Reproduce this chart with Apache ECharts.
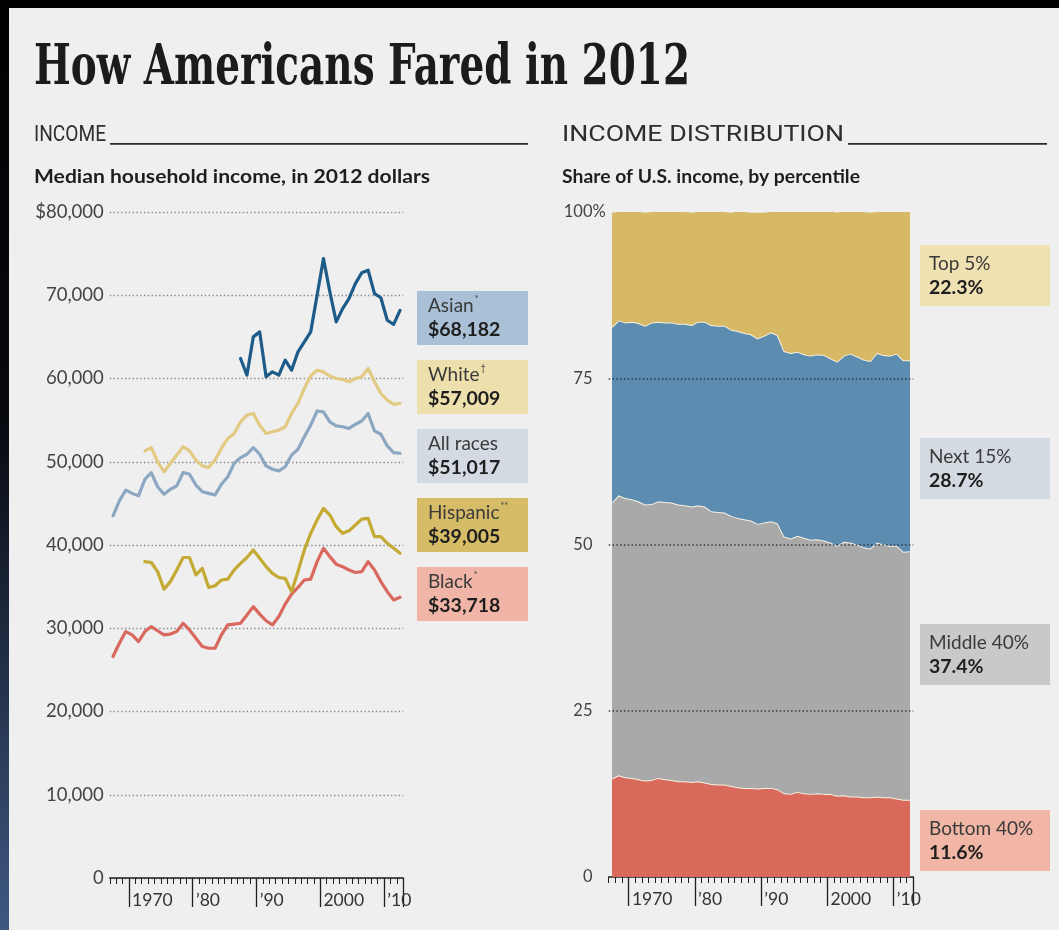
<!DOCTYPE html>
<html>
<head>
<meta charset="utf-8">
<title>How Americans Fared in 2012</title>
<script src="https://cdn.jsdelivr.net/npm/echarts@6/dist/echarts.min.js"></script>
<style>
  html, body { margin: 0; padding: 0; background: #efefef; }
  #chart { width: 1059px; height: 930px; }
</style>
</head>
<body>
<div id="chart"></div>
<script>
// ---- Years on the horizontal axes ----
const FIRST_YEAR = 1967;
const LAST_YEAR = 2012;
const years = [];
for (let y = FIRST_YEAR; y <= LAST_YEAR; y++) years.push(String(y));

// ---- Median household income, 2012 dollars ----
const allRaces = [43500, 45300, 46600, 46200, 45900, 47900, 48700, 47000, 46100, 46700,
  47100, 48700, 48500, 47200, 46400, 46200, 46000, 47300, 48200, 49800,
  50500, 50900, 51700, 50900, 49500, 49100, 48900, 49400, 50800, 51500,
  53000, 54400, 56100, 56000, 54800, 54300, 54200, 54000, 54500, 54900,
  55800, 53700, 53300, 51900, 51100, 51017];            // from 1967
const black = [26600, 28200, 29600, 29200, 28400, 29600, 30200, 29700, 29200, 29300,
  29600, 30600, 29800, 28800, 27800, 27600, 27600, 29200, 30400, 30500,
  30600, 31600, 32600, 31700, 30900, 30400, 31400, 32900, 34100, 34900,
  35800, 35900, 38000, 39600, 38600, 37700, 37400, 37000, 36700, 36800,
  38000, 37000, 35600, 34400, 33400, 33718];            // from 1967
const white = [51300, 51700, 50000, 48800, 49800, 50800, 51800, 51300, 50200, 49500,
  49300, 50200, 51600, 52800, 53400, 54800, 55600, 55800, 54400, 53400,
  53600, 53800, 54200, 55800, 57000, 58800, 60300, 61000, 60800, 60300,
  60000, 59900, 59600, 60000, 60200, 61200, 59600, 58200, 57400, 56900,
  57009];                                               // from 1972
const hispanic = [38000, 37900, 36800, 34700, 35600, 37000, 38500, 38500, 36400, 37200,
  34900, 35100, 35800, 35900, 37000, 37800, 38500, 39400, 38400, 37400,
  36600, 36100, 36000, 34400, 36800, 39400, 41400, 43000, 44400, 43600,
  42200, 41400, 41700, 42400, 43100, 43200, 41000, 41000, 40200, 39600,
  39005];                                               // from 1972
const asian = [62400, 60400, 65000, 65600, 60200, 60800, 60400, 62200, 61000, 63200,
  64400, 65600, 70000, 74400, 70400, 66800, 68400, 69600, 71400, 72700,
  73000, 70200, 69700, 67000, 66500, 68182];            // from 1987

const incomeTicks = [0, 10000, 20000, 30000, 40000, 50000, 60000, 70000, 80000];

// ---- Share of U.S. income by percentile, % (1967-2012) ----
const bottom40 = [14.8, 15.3, 15.0, 14.9, 14.7, 14.5, 14.6, 14.9, 14.7, 14.6,
  14.4, 14.4, 14.3, 14.4, 14.2, 14.0, 13.9, 13.9, 13.7, 13.5,
  13.4, 13.4, 13.3, 13.4, 13.4, 13.2, 12.6, 12.5, 12.8, 12.6,
  12.5, 12.6, 12.5, 12.5, 12.2, 12.3, 12.1, 12.1, 12.0, 12.0,
  12.1, 12.0, 12.0, 11.8, 11.6, 11.6];
const middle40 = [41.5, 42.1, 42.0, 41.9, 41.8, 41.5, 41.5, 41.6, 41.7, 41.7,
  41.6, 41.5, 41.4, 41.5, 41.5, 41.0, 41.0, 40.9, 40.6, 40.5,
  40.4, 40.2, 39.8, 39.9, 40.1, 40.0, 38.6, 38.4, 38.5, 38.4,
  38.2, 38.2, 38.1, 37.8, 37.6, 38.1, 38.2, 37.9, 37.6, 37.4,
  38.2, 38.0, 37.8, 38.0, 37.3, 37.4];
const next15 = [26.4, 26.3, 26.4, 26.7, 26.8, 26.9, 27.3, 27.0, 27.0, 27.1,
  27.2, 27.3, 27.3, 27.6, 27.8, 28.0, 28.0, 28.1, 28.0, 28.1,
  28.0, 28.0, 27.9, 28.1, 28.4, 28.3, 27.9, 27.9, 27.7, 27.6,
  27.7, 27.8, 27.9, 27.7, 27.7, 28.0, 28.4, 28.3, 28.2, 28.2,
  28.5, 28.5, 28.6, 28.9, 28.8, 28.7];
const top5 = [17.2, 16.3, 16.6, 16.6, 16.7, 17.0, 16.6, 16.5, 16.6, 16.6,
  16.8, 16.8, 16.9, 16.5, 16.5, 17.0, 17.1, 17.1, 17.6, 18.0,
  18.2, 18.3, 18.9, 18.5, 18.1, 18.6, 21.0, 21.2, 21.0, 21.4,
  21.7, 21.4, 21.5, 22.1, 22.4, 21.7, 21.4, 21.8, 22.2, 22.3,
  21.2, 21.5, 21.7, 21.3, 22.3, 22.3];

const shareTicks = [0, 25, 50, 75, 100];

// ---- helpers ----
function fromYear(startYear, values) {
  const lead = [];
  for (let y = FIRST_YEAR; y < startYear; y++) lead.push(null);
  return lead.concat(values);
}
const measureCtx = document.createElement('canvas').getContext('2d');
function textWidth(str, size, family, weight) {
  measureCtx.font = weight + ' ' + size + 'px ' + family;
  return measureCtx.measureText(str).width;
}
// text squeezed/stretched horizontally to a given width
function fitText(str, x, y, size, family, weight, color, width) {
  const w = textWidth(str, size, family, weight);
  return {
    type: 'text', x: x, y: y, scaleX: width / w, scaleY: 1, silent: true, z: 20,
    style: { text: str, x: 0, y: 0, fontSize: size, fontFamily: family, fontWeight: weight,
      fill: color, textAlign: 'left', textVerticalAlign: 'middle', align: 'left', verticalAlign: 'middle' }
  };
}
function plainText(str, x, y, size, family, weight, color) {
  return {
    type: 'text', x: x, y: y, silent: true, z: 20,
    style: { text: str, x: 0, y: 0, fontSize: size, fontFamily: family, fontWeight: weight,
      fill: color, textAlign: 'left', textVerticalAlign: 'middle', align: 'left', verticalAlign: 'middle' }
  };
}
const money = v => '$' + v.toLocaleString('en-US');
const last = arr => arr[arr.length - 1];

const SANS = 'Lato';

// ---- income series definitions ----
const incomeSeries = [
  { name: 'Black', mark: '*', start: 1967, values: black, line: '#d9695e', box: '#f0b5a7' },
  { name: 'Hispanic', mark: '**', start: 1972, values: hispanic, line: '#c4a933', box: '#d7bc67' },
  { name: 'All races', mark: '', start: 1967, values: allRaces, line: '#8ca7c2', box: '#d4dae2' },
  { name: 'White', mark: '\u2020', start: 1972, values: white, line: '#e3ca83', box: '#eee0ad' },
  { name: 'Asian', mark: '*', start: 1987, values: asian, line: '#1d5b88', box: '#a9c0d6' }
];
// label boxes, top to bottom
const incomeBoxOrder = ['Asian', 'White', 'All races', 'Hispanic', 'Black'];

const shareSeries = [
  { name: 'Bottom 40%', values: bottom40, area: '#d96a5b', box: '#f1b6a6' },
  { name: 'Middle 40%', values: middle40, area: '#a9a9a9', box: '#c9c9c9' },
  { name: 'Next 15%', values: next15, area: '#5d8cb1', box: '#d4dae2' },
  { name: 'Top 5%', values: top5, area: '#d6b865', box: '#efe1b1' }
];
const shareBoxTops = { 'Top 5%': 245, 'Next 15%': 438, 'Middle 40%': 624, 'Bottom 40%': 810 };

// ---- graphic layer: frame, headings, label boxes ----
const graphics = [];
graphics.push({ type: 'rect', shape: { x: 0, y: 0, width: 1059, height: 8 }, style: { fill: '#000' }, silent: true, z: 30 });
graphics.push({
  type: 'rect', shape: { x: 0, y: 0, width: 9, height: 930 }, silent: true, z: 30,
  style: { fill: { type: 'linear', x: 0, y: 0, x2: 0, y2: 1, colorStops: [
    { offset: 0, color: '#000000' }, { offset: 0.45, color: '#07090f' }, { offset: 1, color: '#3f5882' }] } }
});

graphics.push(fitText('How Americans Fared in 2012', 34, 69, 56, 'DejaVu Serif', 'bold', '#1b1b1b', 656));

graphics.push(fitText('INCOME', 34, 135, 22, 'Roboto', 'normal', '#2e2e2e', 72));
graphics.push({ type: 'rect', shape: { x: 110, y: 143, width: 418, height: 1.8 }, style: { fill: '#2a2a2a' }, silent: true });
graphics.push(fitText('INCOME DISTRIBUTION', 562, 135, 22, 'Roboto', 'normal', '#2e2e2e', 282));
graphics.push({ type: 'rect', shape: { x: 848, y: 143, width: 199, height: 1.8 }, style: { fill: '#2a2a2a' }, silent: true });

graphics.push(fitText('Median household income, in 2012 dollars', 34, 177, 19, SANS, 'bold', '#1e1e1e', 396));
graphics.push(fitText('Share of U.S. income, by percentile', 562, 177, 19, SANS, 'bold', '#1e1e1e', 298));

const BOX_NAME = 19, BOX_VALUE = 19.5;
incomeBoxOrder.forEach((name, i) => {
  const s = incomeSeries.find(d => d.name === name);
  const top = 291 + i * 69;
  graphics.push({ type: 'rect', shape: { x: 417, y: top, width: 111, height: 54 }, style: { fill: s.box }, silent: true, z: 10 });
  graphics.push(plainText(s.name, 428, top + 15, BOX_NAME, SANS, 'normal', '#3a3a3a'));
  if (s.mark) {
    const w = textWidth(s.name, BOX_NAME, SANS, 'normal');
    graphics.push(plainText(s.mark, 428 + w + 1, top + 8, 9, SANS, 'normal', '#3a3a3a'));
  }
  graphics.push(plainText(money(last(s.values)), 428, top + 39, BOX_VALUE, SANS, 'bold', '#1e1e1e'));
});

shareSeries.forEach(s => {
  const top = shareBoxTops[s.name];
  graphics.push({ type: 'rect', shape: { x: 920, y: top, width: 130, height: 61 }, style: { fill: s.box }, silent: true, z: 10 });
  graphics.push(plainText(s.name, 929, top + 19, BOX_NAME, SANS, 'normal', '#3a3a3a'));
  graphics.push(plainText(last(s.values).toFixed(1) + '%', 929, top + 43, BOX_VALUE, SANS, 'bold', '#1e1e1e'));
});

// ---- axes ----
const decade = (i, v) => Number(v) % 10 === 0;
const yearLabel = v => {
  const n = Number(v);
  if (n === 1970 || n === 2000) return String(n);
  return '\u2019' + String(n).slice(2);
};
function yearAxes(gridIndex) {
  return [
    { // axis line with a tick for every year
      type: 'category', gridIndex, data: years, boundaryGap: true, position: 'bottom',
      axisLine: { show: true, lineStyle: { color: '#1f1f1f', width: 1.5 } },
      axisTick: { show: true, interval: 0, length: 6, lineStyle: { color: '#1f1f1f', width: 1 } },
      axisLabel: { show: false }, splitLine: { show: false }
    },
    { // long decade ticks with their labels
      type: 'category', gridIndex, data: years, boundaryGap: true, position: 'bottom',
      axisLine: { show: false },
      axisTick: { show: true, interval: decade, length: 29, lineStyle: { color: '#1f1f1f', width: 1.3 } },
      axisLabel: { show: true, interval: decade, formatter: yearLabel, align: 'left', margin: 13,
        padding: [0, 0, 0, 0], fontFamily: SANS, fontSize: 17.5, color: '#333' },
      splitLine: { show: false }
    }
  ];
}

const dotted = { color: '#8a8a8a', width: 1.3, type: [1.4, 2.4] };

const option = {
  backgroundColor: '#efefef',
  animation: false,
  textStyle: { fontFamily: SANS },
  graphic: { elements: graphics },
  grid: [
    { left: 109.8, right: 655.8, top: 212, bottom: 52 },
    { left: 608.7, right: 145.7, top: 212, bottom: 53 }
  ],
  xAxis: yearAxes(0).concat(yearAxes(1)),
  yAxis: [
    {
      type: 'value', gridIndex: 0, min: incomeTicks[0], max: incomeTicks[incomeTicks.length - 1],
      interval: incomeTicks[1] - incomeTicks[0],
      axisLine: { show: false }, axisTick: { show: false },
      axisLabel: { margin: 6, fontFamily: SANS, fontSize: 18.5, color: '#444',
        formatter: v => v === incomeTicks[incomeTicks.length - 1] ? money(v) : v.toLocaleString('en-US') },
      splitLine: { show: true, lineStyle: dotted }
    },
    {
      type: 'value', gridIndex: 1, min: shareTicks[0], max: shareTicks[shareTicks.length - 1],
      interval: shareTicks[1] - shareTicks[0],
      axisLine: { show: false }, axisTick: { show: false },
      axisLabel: { margin: 3, fontFamily: SANS, fontSize: 16.5, color: '#444',
        formatter: v => v === 100 ? '{n|100%}' : '{n|' + v + '}{h|%}',
        rich: { n: { fontFamily: SANS, fontSize: 16.5, color: '#444' },
                h: { fontFamily: SANS, fontSize: 16.5, color: 'rgba(0,0,0,0)' } } },
      splitLine: { show: false }
    }
  ],
  series: [
    ...incomeSeries.map((s, i) => ({
      type: 'line', name: s.name, xAxisIndex: 0, yAxisIndex: 0,
      data: fromYear(s.start, s.values), symbol: 'none', connectNulls: false,
      lineStyle: { color: s.line, width: 3.2, join: 'round', cap: 'round' },
      itemStyle: { color: s.line }, z: 5 + i, silent: true
    })),
    ...shareSeries.map((s, i) => ({
      type: 'line', name: s.name, xAxisIndex: 2, yAxisIndex: 1, stack: 'share',
      data: s.values, symbol: 'none', silent: true,
      lineStyle: { color: '#f6f1e2', width: i === shareSeries.length - 1 ? 0 : 2 },
      areaStyle: { color: s.area, opacity: 1 },
      itemStyle: { color: s.area },
      z: 2 + i,
      markLine: i === shareSeries.length - 1 ? {
        silent: true, symbol: ['none', 'none'], label: { show: false },
        lineStyle: { color: '#27303c', width: 1.6, type: [1.5, 2.3], opacity: 0.9 },
        data: [{ yAxis: 25 }, { yAxis: 50 }, { yAxis: 75 }]
      } : undefined
    }))
  ]
};

const chart = echarts.init(document.getElementById('chart'), null, { renderer: 'canvas', width: 1059, height: 930 });
chart.setOption(option);
</script>
</body>
</html>
